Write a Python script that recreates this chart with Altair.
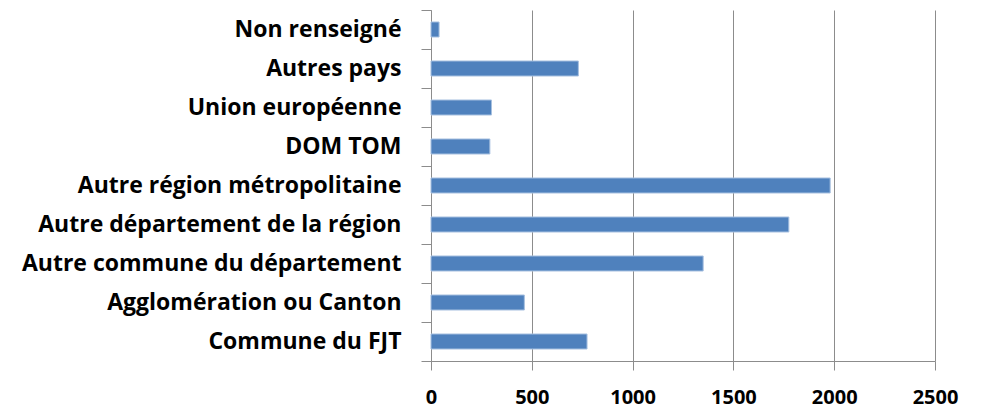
import altair as alt
import pandas as pd

categories = [
    "Non renseigné",
    "Autres pays",
    "Union européenne",
    "DOM TOM",
    "Autre région métropolitaine",
    "Autre département de la région",
    "Autre commune du département",
    "Agglomération ou Canton",
    "Commune du FJT",
]
values = [40, 731, 300, 292, 1980, 1775, 1350, 463, 774]
x_ticks = [0, 500, 1000, 1500, 2000, 2500]

df = pd.DataFrame({"cat": categories, "val": values})

chart = (
    alt.Chart(df)
    .mark_bar(
        color="#4F81BD",
        stroke="#A7C0E0",
        strokeWidth=1,
        height=alt.RelativeBandSize(0.385),
    )
    .encode(
        x=alt.X(
            "val:Q",
            scale=alt.Scale(domain=[0, 2500], nice=False),
            axis=alt.Axis(
                title=None,
                values=x_ticks,
                format="d",
                grid=True,
                gridColor="#8C8C8C",
                gridWidth=1,
                domainColor="#8C8C8C",
                tickColor="#8C8C8C",
                tickSize=9,
                labelFont="Open Sans",
                labelFontSize=20,
                labelFontWeight="bold",
                labelColor="#000000",
                labelPadding=17,
                labelFlush=False,
            ),
        ),
        y=alt.Y(
            "cat:N",
            sort=categories,
            scale=alt.Scale(paddingInner=0, paddingOuter=0),
            axis=alt.Axis(
                title=None,
                grid=False,
                tickBand="extent",
                domainColor="#8C8C8C",
                tickColor="#8C8C8C",
                tickSize=10,
                labelFont="Open Sans",
                labelFontSize=23,
                labelFontWeight="bold",
                labelColor="#000000",
                labelPadding=20,
                labelLimit=0,
            ),
        ),
    )
    .properties(
        width=504,
        height=351,
        autosize=alt.AutoSizeParams(type="none"),
        padding={"left": 423, "top": 2, "right": 40, "bottom": 47},
    )
    .configure_view(stroke=None)
)

chart.save("out.html", embed_options={"renderer": "svg", "actions": False})
